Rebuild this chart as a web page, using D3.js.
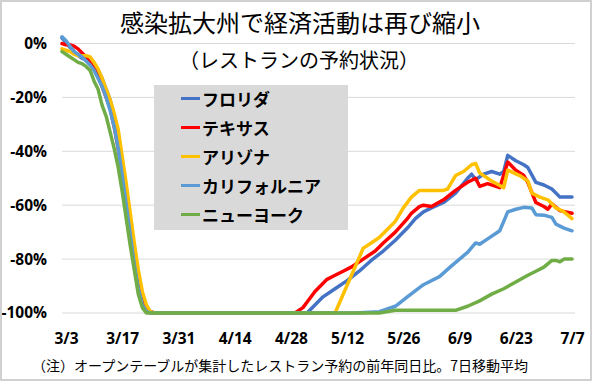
<!DOCTYPE html>
<html><head><meta charset="utf-8">
<script src="https://cdn.jsdelivr.net/npm/d3@7"></script>
<style>body{margin:0;background:#fff} svg{display:block}</style>
</head><body>
<svg id="c" width="600" height="383"></svg>
<script>
const title = "感染拡大州で経済活動は再び縮小";
const subtitle = "（レストランの予約状況）";
const note = "（注）オープンテーブルが集計したレストラン予約の前年同日比。7日移動平均";
const seriesNames = ["フロリダ", "テキサス", "アリゾナ", "カリフォルニア", "ニューヨーク"];
const seriesColors = ["#4472C4", "#FF0000", "#FFC000", "#5B9BD5", "#70AD47"];
const xTickLabels = ["3/3", "3/17", "3/31", "4/14", "4/28", "5/12", "5/26", "6/9", "6/23", "7/7"];
const yTicks = [0, -20, -40, -60, -80, -100];

const florida = [["3/2",2],["3/3",0.5],["3/4",-1.5],["3/5",-3],["3/6",-4.5],["3/7",-5.5],["3/8",-6],["3/9",-7.5],["3/10",-9],["3/11",-10],["3/12",-13],["3/13",-17],["3/14",-21],["3/15",-27],["3/16",-34],["3/17",-44],["3/18",-55],["3/19",-66],["3/20",-78],["3/21",-88],["3/22",-95],["3/23",-98.5],["3/24",-99.5],["3/25",-100],
  ["5/2",-100],["5/3",-98.5],["5/6",-94],["5/9",-91],["5/12",-88],["5/15",-84.5],["5/18",-80.5],["5/21",-77],["5/24",-73],["5/27",-68.5],["5/29",-65],["5/31",-62.5],["6/2",-61],["6/5",-59],["6/8",-55.5],["6/11",-50],["6/12",-48.5],["6/13",-50.5],["6/15",-48.5],["6/17",-47.5],["6/19",-48.5],["6/20",-47.5],["6/21",-41.5],["6/23",-43.5],["6/25",-45],["6/26",-46],["6/28",-51.5],["6/30",-52.5],["7/2",-54],["7/4",-57],["7/7",-57]];
const texas = [["3/2",0],["3/3",-0.5],["3/4",-0.5],["3/5",-1],["3/6",-2],["3/7",-3.5],["3/8",-5],["3/9",-7],["3/10",-9.5],["3/11",-12],["3/12",-16],["3/13",-20],["3/14",-24],["3/15",-31],["3/16",-39],["3/17",-48],["3/18",-58],["3/19",-69],["3/20",-80],["3/21",-89],["3/22",-95],["3/23",-98.5],["3/24",-99.5],["3/25",-100],
  ["4/29",-100],["5/1",-98],["5/2",-96],["5/4",-92],["5/7",-87.5],["5/9",-86],["5/11",-84.5],["5/13",-83],["5/16",-80],["5/19",-77],["5/21",-74],["5/24",-70],["5/27",-65],["5/28",-63],["5/30",-60.5],["5/31",-60],["6/2",-60.5],["6/5",-58],["6/8",-54.5],["6/11",-51.5],["6/13",-50],["6/14",-53],["6/16",-52],["6/19",-53.5],["6/21",-44],["6/23",-47],["6/25",-49],["6/26",-51.5],["6/28",-59],["6/30",-60.5],["7/1",-61.5],["7/2",-59.5],["7/4",-62],["7/7",-63]];
const arizona = [["3/2",-2],["3/3",-2.5],["3/4",-3],["3/5",-4],["3/6",-4.5],["3/7",-4.5],["3/8",-4.5],["3/9",-5],["3/10",-7],["3/11",-9.5],["3/12",-13],["3/13",-17],["3/14",-21],["3/15",-26],["3/16",-32],["3/17",-42],["3/18",-52],["3/19",-63],["3/20",-74],["3/21",-84],["3/22",-92],["3/23",-97],["3/24",-99.5],["3/25",-100],
  ["5/9",-100],["5/16",-76],["5/17",-75],["5/18",-74],["5/20",-72],["5/22",-69],["5/24",-66],["5/26",-61],["5/28",-57],["5/30",-54.5],["6/1",-54.5],["6/5",-54.5],["6/6",-54],["6/8",-49],["6/10",-47.5],["6/12",-45],["6/13",-44.5],["6/14",-48],["6/17",-51],["6/20",-53.5],["6/21",-47],["6/24",-49],["6/26",-51],["6/27",-55.5],["6/29",-57],["7/1",-58],["7/3",-61],["7/5",-62.5],["7/7",-65]];
const california = [["3/2",2.5],["3/3",1],["3/4",-1],["3/5",-3],["3/6",-4],["3/7",-5],["3/8",-6.5],["3/9",-8],["3/10",-10],["3/11",-13],["3/12",-16],["3/13",-20],["3/14",-25],["3/15",-31],["3/16",-39],["3/17",-49],["3/18",-60],["3/19",-71],["3/20",-82],["3/21",-91],["3/22",-97],["3/23",-99.5],["3/24",-100],
  ["5/14",-100],["5/20",-99.5],["5/24",-97.5],["5/27",-94],["5/31",-89.5],["6/4",-86.5],["6/7",-82.5],["6/9",-80],["6/11",-77.5],["6/13",-74],["6/14",-74.5],["6/16",-72.5],["6/18",-70.5],["6/19",-69.5],["6/20",-66],["6/21",-62.5],["6/23",-61.5],["6/25",-60.8],["6/27",-61],["6/28",-63.5],["6/30",-63.7],["7/2",-64.5],["7/3",-67],["7/5",-68.5],["7/7",-69.5]];
const newYork = [["3/2",-3],["3/3",-4],["3/4",-5],["3/5",-6],["3/6",-7],["3/7",-7.5],["3/8",-8.5],["3/9",-10],["3/10",-14],["3/11",-17],["3/12",-23],["3/13",-27],["3/14",-33],["3/15",-39],["3/16",-46],["3/17",-55],["3/18",-65],["3/19",-75],["3/20",-84],["3/21",-93],["3/22",-98],["3/23",-100],
  ["5/20",-100],["5/24",-99],["6/8",-99],["6/11",-97.5],["6/14",-95.5],["6/17",-93],["6/20",-91],["6/23",-88.5],["6/26",-86],["6/28",-84.5],["6/30",-83],["7/2",-80.5],["7/3",-80.5],["7/4",-81],["7/5",-80],["7/7",-80]];

const seriesData = [florida, texas, arizona, california, newYork];
const parseMD = s => { const [m, d] = s.split("/").map(Number); return new Date(2020, m - 1, d); };

const svg = d3.select("#c");
const W = 600, H = 383;
svg.append("rect").attr("x", 0).attr("y", 0).attr("width", W).attr("height", H).attr("fill", "#fff");

const x = d3.scaleTime().domain([new Date(2020, 2, 2), new Date(2020, 6, 7)]).range([62, 572]);
const y = d3.scaleLinear().domain([0, -100]).range([43.5, 313]);

// gridlines
svg.append("g").selectAll("line").data(yTicks).join("line")
  .attr("x1", 62).attr("x2", 575)
  .attr("y1", d => y(d)).attr("y2", d => y(d))
  .attr("stroke", "#d9d9d9").attr("stroke-width", 1);

// y axis
const yAxis = svg.append("g").attr("transform", "translate(47,0)")
  .call(d3.axisLeft(y).tickValues(yTicks).tickSize(0).tickPadding(0).tickFormat(d => d + "%"));
yAxis.select(".domain").remove();
yAxis.selectAll("text").attr("font-family", "'Open Sans', sans-serif").attr("font-weight", "bold")
  .attr("font-size", "15.5px").attr("fill", "#000");

// x axis
const xAxis = svg.append("g").attr("transform", "translate(0,333)")
  .call(d3.axisBottom(x).tickValues(xTickLabels.map(parseMD)).tickSize(0).tickPadding(0)
    .tickFormat((d, i) => xTickLabels[i]));
xAxis.select(".domain").remove();
xAxis.selectAll("text").attr("font-family", "'Open Sans', sans-serif").attr("font-weight", "bold")
  .attr("font-size", "15.5px").attr("fill", "#000");

// lines
const line = d3.line().x(d => x(parseMD(d[0]))).y(d => y(d[1]));
svg.append("g").selectAll("path").data(seriesData).join("path")
  .attr("d", line).attr("fill", "none")
  .attr("stroke", (d, i) => seriesColors[i]).attr("stroke-width", 3.5)
  .attr("stroke-linejoin", "round").attr("stroke-linecap", "round");

// title
svg.append("text").attr("x", 300).attr("y", 21).attr("text-anchor", "middle").attr("dominant-baseline", "central")
  .attr("font-family", "'Noto Sans CJK JP', sans-serif").attr("font-size", "24px").attr("fill", "#000").text(title);
svg.append("text").attr("x", 299).attr("y", 59).attr("text-anchor", "middle").attr("dominant-baseline", "central")
  .attr("font-family", "'Noto Sans CJK JP', sans-serif").attr("font-size", "20px").attr("fill", "#000").text(subtitle);

// legend
const lg = svg.append("g");
lg.append("rect").attr("x", 154).attr("y", 85).attr("width", 194).attr("height", 145).attr("fill", "#d9d9d9");
const items = lg.selectAll("g").data(seriesNames).join("g")
  .attr("transform", (d, i) => `translate(0,${98.5 + i * 29})`);
items.append("line").attr("x1", 181).attr("x2", 200).attr("y1", 0).attr("y2", 0)
  .attr("stroke", (d, i) => seriesColors[i]).attr("stroke-width", 3);
items.append("text").attr("x", 202).attr("y", 0).attr("dominant-baseline", "central")
  .attr("font-family", "'Noto Sans CJK JP', sans-serif").attr("font-weight", "bold").attr("font-size", "17px")
  .attr("fill", "#000").text(d => d);

// note
svg.append("text").attr("x", 32).attr("y", 365).attr("dominant-baseline", "central")
  .attr("font-family", "'Noto Sans CJK JP', sans-serif").attr("font-size", "14px").attr("fill", "#000").text(note);

// border
svg.append("rect").attr("x", 1).attr("y", 1).attr("width", 590).attr("height", 379)
  .attr("fill", "none").attr("stroke", "#d0d0d0").attr("stroke-width", 2);
</script>
</body></html>
